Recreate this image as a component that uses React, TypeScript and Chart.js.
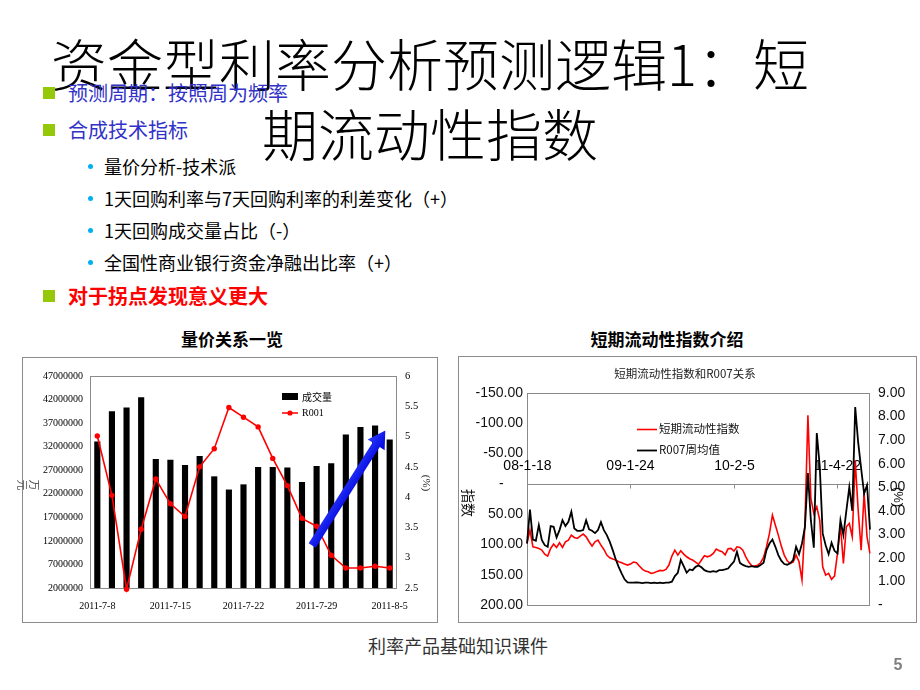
import React, { useEffect, useRef } from 'react';
import { Chart, registerables } from 'chart.js';

Chart.register(...registerables);

// ---------- Left chart: 量价关系一览 ----------
const VOL_DATES = [
  '2011-7-8', '2011-7-11', '2011-7-12', '2011-7-13', '2011-7-14', '2011-7-15',
  '2011-7-18', '2011-7-19', '2011-7-20', '2011-7-21', '2011-7-22',
  '2011-7-25', '2011-7-26', '2011-7-27', '2011-7-28', '2011-7-29',
  '2011-8-1', '2011-8-2', '2011-8-3', '2011-8-4', '2011-8-5',
];
const VOLUME = [
  33100000, 39500000, 40300000, 42500000, 29400000, 29200000,
  28100000, 30000000, 25700000, 22900000, 24000000,
  27700000, 27700000, 27600000, 24500000, 27900000,
  28500000, 34600000, 36200000, 36500000, 33500000,
];
const R001 = [
  5.01, 4.03, 2.48, 3.47, 4.30, 3.89,
  3.68, 4.50, 4.80, 5.48, 5.32,
  5.16, 4.64, 4.19, 3.65, 3.52,
  3.04, 2.83, 2.83, 2.86, 2.83,
];
// arrow annotation in data space: [category index, R001 axis value]
const ARROW_FROM = [14.7, 3.2];
const ARROW_TO = [19.7, 5.1];

// ---------- Right chart: 短期流动性指数和R007关系 ----------
const LIQ_TICK_LABELS = ['08-1-18', '09-1-24', '10-2-5', '11-4-22'];
const LIQ_TICK_EVERY = 35;
const LIQ_INDEX = [
  98.4, 76.4, 103.9, 105, 106.6, 109.4, 116, 119.3, 106.6, 99.5,
  105, 97.3, 105, 95.6, 92.9, 84.6, 88.5, 90.1, 86.3, 83,
  87.4, 95.6, 102.8, 95.6, 92.9, 101.1, 108.3, 117.6, 122, 124.2,
  125.8, 128.6, 130.2, 132.4, 134.1, 132.4, 129.1, 130.2, 135.7, 140.7,
  144, 145.1, 147.8, 146.7, 144.5, 142.9, 143.4, 141.2, 134, 119.3,
  109.4, 117.6, 110.5, 116, 120.4, 123.7, 125.8, 129.1, 133, 125.8,
  118.7, 120.4, 118.7, 114.9, 107.7, 110.5, 112.1, 117.1, 107.2, 106.6,
  111, 103.9, 105, 109.4, 120.4, 129.1, 135.2, 135.7, 134.6, 130.2,
  121.5, 103.9, 81.9, 51.7, 68.2, 84.6, 102.8, 117.6, 127, 131.3,
  129.1, 117.6, 128.6, 158.8, 65.4, -113.2, 24.2, 48.9, 37.9, 59.9,
  136.8, 150.6, 147.8, 157.7, 152.2, 114.9, 68.2, 131.3, 70.9, 65.4,
  87.4, -39, 43.4, 109.4, 16, 87.4, 114.9,
];
const R007 = [
  2.61, 4.05, 2.78, 2.73, 3.39, 2.76, 2.54, 2.47, 3.35, 3.32,
  2.87, 3.18, 3.60, 3.35, 3.53, 3.96, 3.25, 3.15, 3.15, 3.18,
  3.60, 3.21, 3.15, 3.05, 3.18, 3.52, 3.18, 2.97, 2.68, 2.33,
  1.94, 1.62, 1.34, 1.09, 0.96, 0.95, 0.95, 0.96, 0.95, 0.93,
  0.95, 0.95, 0.93, 0.95, 0.93, 0.95, 0.93, 0.95, 0.95, 0.99,
  1.23, 1.37, 1.91, 1.65, 1.37, 1.51, 1.48, 1.62, 1.68, 1.60,
  1.48, 1.43, 1.41, 1.44, 1.41, 1.48, 1.48, 1.51, 1.55, 1.70,
  1.84, 2.26, 1.79, 1.70, 1.65, 1.62, 1.65, 1.62, 1.62, 1.70,
  1.79, 2.33, 2.61, 2.78, 2.47, 2.12, 1.88, 1.74, 1.71, 1.77,
  1.91, 2.47, 2.16, 2.61, 3.32, 5.60, 3.60, 2.43, 7.30, 5.90,
  3.04, 2.54, 2.16, 2.64, 2.30, 2.19, 3.60, 2.97, 4.00, 5.00,
  4.00, 8.40, 6.90, 5.80, 4.73, 5.09, 3.20,
];
const LIQ_LABELS = LIQ_INDEX.map((_, i) =>
  i % LIQ_TICK_EVERY === 0 ? LIQ_TICK_LABELS[i / LIQ_TICK_EVERY] || '' : ''
);

const CJK = '"Noto Sans CJK SC", "Noto Sans", sans-serif';
const SERIF = '"Liberation Serif", "DejaVu Serif", serif';
const SANS = '"Liberation Sans", Arial, sans-serif';

const leftDeco = {
  id: 'leftDeco',
  beforeDatasetsDraw(chart: any) {
    const { ctx, chartArea: a } = chart;
    ctx.save();
    ctx.strokeStyle = '#8a8a8a';
    ctx.lineWidth = 1;
    ctx.strokeRect(Math.round(a.left) + 0.5, Math.round(a.top) + 0.5, Math.round(a.width) - 1, Math.round(a.height));
    ctx.restore();
  },
  afterDatasetsDraw(chart: any) {
    const { ctx, scales } = chart;
    const xs = scales.x;
    const ys = scales.y1;
    const x0 = xs.getPixelForValue(ARROW_FROM[0]);
    const y0 = ys.getPixelForValue(ARROW_FROM[1]);
    const x1 = xs.getPixelForValue(ARROW_TO[0]);
    const y1 = ys.getPixelForValue(ARROW_TO[1]);
    const L = Math.hypot(x1 - x0, y1 - y0);
    const ang = Math.atan2(y1 - y0, x1 - x0);
    const headLen = 17, headW = 10, shaftW = 4.2;
    ctx.save();
    ctx.translate(x0, y0);
    ctx.rotate(ang);
    const g = ctx.createLinearGradient(0, -headW, 0, headW);
    g.addColorStop(0, '#2a3cff');
    g.addColorStop(1, '#0000d8');
    ctx.fillStyle = g;
    ctx.beginPath();
    ctx.moveTo(0, -shaftW);
    ctx.lineTo(L - headLen, -shaftW);
    ctx.lineTo(L - headLen, -headW);
    ctx.lineTo(L, 0);
    ctx.lineTo(L - headLen, headW);
    ctx.lineTo(L - headLen, shaftW);
    ctx.lineTo(0, shaftW);
    ctx.closePath();
    ctx.fill();
    ctx.restore();

    // legend
    ctx.save();
    ctx.fillStyle = '#000';
    ctx.fillRect(260, 36, 16, 7);
    ctx.strokeStyle = '#ff0000';
    ctx.lineWidth = 1.5;
    ctx.beginPath();
    ctx.moveTo(260, 56);
    ctx.lineTo(276, 56);
    ctx.stroke();
    ctx.fillStyle = '#ff0000';
    ctx.beginPath();
    ctx.arc(268, 56, 2.6, 0, Math.PI * 2);
    ctx.fill();
    ctx.fillStyle = '#000';
    ctx.textBaseline = 'middle';
    ctx.textAlign = 'left';
    ctx.font = `10px ${CJK}`;
    ctx.fillText('成交量', 280, 40);
    ctx.font = `10px ${SERIF}`;
    ctx.fillText('R001', 280, 56);
    ctx.restore();
  },
};

const rightDeco = {
  id: 'rightDeco',
  beforeDatasetsDraw(chart: any) {
    const { ctx, chartArea: a, scales } = chart;
    ctx.save();
    ctx.strokeStyle = '#8a8a8a';
    ctx.lineWidth = 1;
    ctx.strokeRect(Math.round(a.left) + 0.5, Math.round(a.top) + 0.5, Math.round(a.width) - 1, Math.round(a.height));
    // category axis drawn at value 0 of the index axis
    const yz = Math.round(scales.y.getPixelForValue(0)) + 0.5;
    ctx.beginPath();
    ctx.moveTo(a.left, yz);
    ctx.lineTo(a.right, yz);
    ctx.stroke();
    ctx.fillStyle = '#000';
    ctx.font = `14px ${SANS}`;
    ctx.textAlign = 'center';
    ctx.textBaseline = 'middle';
    LIQ_LABELS.forEach((lab, i) => {
      if (!lab) return;
      const x = Math.round(scales.x.getPixelForValue(i)) + 0.5;
      ctx.beginPath();
      ctx.moveTo(x, yz);
      ctx.lineTo(x, yz + 4);
      ctx.stroke();
      ctx.fillText(lab, x, yz - 18);
    });
    ctx.restore();
  },
  afterDatasetsDraw(chart: any) {
    const { ctx } = chart;
    ctx.save();
    ctx.lineWidth = 1.6;
    ctx.strokeStyle = '#ff0000';
    ctx.beginPath();
    ctx.moveTo(179, 73.5);
    ctx.lineTo(199, 73.5);
    ctx.stroke();
    ctx.strokeStyle = '#000';
    ctx.lineWidth = 1.8;
    ctx.beginPath();
    ctx.moveTo(179, 94.5);
    ctx.lineTo(199, 94.5);
    ctx.stroke();
    ctx.fillStyle = '#111';
    ctx.font = `11.5px ${CJK}`;
    ctx.textAlign = 'left';
    ctx.textBaseline = 'middle';
    ctx.fillText('短期流动性指数', 201, 73);
    ctx.fillText('R007周均值', 201, 94);
    ctx.restore();
  },
};

const abs = (l: number, t: number, extra: any = {}) => ({ position: 'absolute' as const, left: l, top: t, ...extra });

export default function App() {
  const leftRef = useRef<HTMLCanvasElement>(null);
  const rightRef = useRef<HTMLCanvasElement>(null);

  useEffect(() => {
    const noGrid = { display: false, drawTicks: false };
    const c1 = new Chart(leftRef.current as HTMLCanvasElement, {
      type: 'bar',
      data: {
        labels: VOL_DATES,
        datasets: [
          {
            type: 'line',
            label: 'R001',
            data: R001,
            yAxisID: 'y1',
            borderColor: '#ff0000',
            backgroundColor: '#ff0000',
            borderWidth: 1.6,
            pointRadius: 2.7,
            pointBackgroundColor: '#ff0000',
            pointBorderWidth: 0,
            clip: false,
            order: 0,
          } as any,
          {
            type: 'bar',
            label: '成交量',
            data: VOLUME,
            yAxisID: 'y',
            backgroundColor: '#000',
            barPercentage: 0.42,
            categoryPercentage: 1,
            order: 1,
          } as any,
        ],
      },
      options: {
        responsive: false,
        animation: false,
        devicePixelRatio: 1,
        layout: { padding: { left: 4, right: 5, top: 19, bottom: 10 } },
        plugins: { legend: { display: false }, tooltip: { enabled: false } },
        scales: {
          x: {
            grid: noGrid,
            border: { display: false },
            ticks: {
              autoSkip: false,
              maxRotation: 0,
              padding: 12,
              color: '#000',
              font: { family: SERIF, size: 10 },
              callback: (_v: any, i: number) => (i % 5 === 0 ? VOL_DATES[i] : ''),
            },
            afterFit: (s: any) => { s.height = 25; },
          },
          y: {
            position: 'left',
            min: 2000000,
            max: 47000000,
            grid: noGrid,
            border: { display: false },
            ticks: {
              stepSize: 5000000,
              padding: 7,
              color: '#000',
              font: { family: SERIF, size: 10 },
              callback: (v: any) => String(v),
            },
            afterFit: (s: any) => { s.width = 64; },
          },
          y1: {
            position: 'right',
            min: 2.5,
            max: 6,
            grid: noGrid,
            border: { display: false },
            ticks: {
              stepSize: 0.5,
              padding: 8,
              color: '#000',
              font: { family: SERIF, size: 10.5 },
              callback: (v: any) => String(v),
            },
            afterFit: (s: any) => { s.width = 36; },
          },
        },
      } as any,
      plugins: [leftDeco],
    });

    const c2 = new Chart(rightRef.current as HTMLCanvasElement, {
      type: 'line',
      data: {
        labels: LIQ_LABELS,
        datasets: [
          {
            label: '短期流动性指数',
            data: LIQ_INDEX,
            yAxisID: 'y',
            borderColor: '#ff0000',
            borderWidth: 1.6,
            pointRadius: 0,
            tension: 0,
            order: 1,
          },
          {
            label: 'R007周均值',
            data: R007,
            yAxisID: 'y1',
            borderColor: '#000',
            borderWidth: 1.8,
            pointRadius: 0,
            tension: 0,
            order: 0,
          },
        ],
      },
      options: {
        responsive: false,
        animation: false,
        devicePixelRatio: 1,
        layout: { padding: { left: 9, right: 7, top: 37, bottom: 18 } },
        plugins: { legend: { display: false }, tooltip: { enabled: false } },
        scales: {
          x: { display: false, offset: false },
          y: {
            position: 'left',
            reverse: true,
            min: -150,
            max: 200,
            grid: noGrid,
            border: { display: false },
            ticks: {
              stepSize: 50,
              padding: 4,
              color: '#111',
              font: { family: SANS, size: 14 },
              callback: (v: any) => (Number(v) === 0 ? '-     ' : Number(v).toFixed(2)),
            },
            afterFit: (s: any) => { s.width = 60; },
          },
          y1: {
            position: 'right',
            min: 0,
            max: 9,
            grid: noGrid,
            border: { display: false },
            ticks: {
              stepSize: 1,
              padding: 8,
              color: '#111',
              font: { family: SANS, size: 14 },
              callback: (v: any) => (Number(v) === 0 ? '-' : Number(v).toFixed(2)),
            },
            afterFit: (s: any) => { s.width = 40; },
          },
        },
      } as any,
      plugins: [rightDeco],
    });

    return () => {
      c1.destroy();
      c2.destroy();
    };
  }, []);

  const sq = (t: number) => (
    <div style={abs(43, t, { width: 12, height: 12, background: '#96c80a' })} />
  );
  const dot = (c: number) => (
    <div style={abs(88, c - 2.5, { width: 5, height: 5, borderRadius: '50%', background: '#00b0f0' })} />
  );
  const sub = (c: number, text: string) => (
    <div style={abs(104, c - 12, { fontSize: 18, lineHeight: '24px', color: '#000', whiteSpace: 'nowrap' })}>{text}</div>
  );

  return (
    <div
      style={{
        position: 'absolute',
        left: 0,
        top: 0,
        width: 920,
        height: 690,
        background: '#fff',
        overflow: 'hidden',
        fontFamily: CJK,
      }}
    >
      {/* title */}
      <div
        style={abs(0, 27, {
          width: 860,
          textAlign: 'center',
          fontSize: 56,
          lineHeight: '70px',
          color: '#000',
          fontWeight: 300,
          whiteSpace: 'nowrap',
        })}
      >
        资金型利率分析预测逻辑1：短
        <br />
        期流动性指数
      </div>

      {/* bullets */}
      {sq(87)}
      <div style={abs(68, 81, { fontSize: 20, lineHeight: '24px', color: '#3232c8', whiteSpace: 'nowrap' })}>
        预测周期：按照周为频率
      </div>
      {sq(124)}
      <div style={abs(68, 118, { fontSize: 20, lineHeight: '24px', color: '#3232c8', whiteSpace: 'nowrap' })}>
        合成技术指标
      </div>
      {dot(166)}
      {sub(166, '量价分析-技术派')}
      {dot(198)}
      {sub(198, '1天回购利率与7天回购利率的利差变化（+）')}
      {dot(230)}
      {sub(230, '1天回购成交量占比（-）')}
      {dot(262)}
      {sub(262, '全国性商业银行资金净融出比率（+）')}
      {sq(290)}
      <div
        style={abs(68, 284, { fontSize: 20, lineHeight: '24px', color: '#ff0000', fontWeight: 700, whiteSpace: 'nowrap' })}
      >
        对于拐点发现意义更大
      </div>

      {/* chart headings */}
      <div style={abs(132, 328, { width: 200, textAlign: 'center', fontSize: 17, lineHeight: '22px', fontWeight: 700 })}>
        量价关系一览
      </div>
      <div style={abs(567, 328, { width: 200, textAlign: 'center', fontSize: 17, lineHeight: '22px', fontWeight: 700 })}>
        短期流动性指数介绍
      </div>

      {/* left chart box */}
      <div style={abs(22, 357, { width: 416, height: 266, boxSizing: 'border-box', border: '1px solid #8c8c8c' })} />
      <canvas ref={leftRef} width={416} height={266} style={abs(22, 357, { width: 416, height: 266 })} />
      <div
        style={abs(25, 479, {
          width: 20,
          height: 12,
          fontSize: 11,
          lineHeight: '12px',
          color: '#555',
          textAlign: 'center',
          transform: 'rotate(90deg)',
        })}
      >
        万元
      </div>
      <div
        style={abs(417, 477, {
          width: 20,
          height: 12,
          fontSize: 11,
          lineHeight: '12px',
          color: '#222',
          textAlign: 'center',
          fontFamily: SERIF,
          transform: 'rotate(90deg)',
        })}
      >
        (%)
      </div>

      {/* right chart box */}
      <div style={abs(458, 356, { width: 459, height: 267, boxSizing: 'border-box', border: '1px solid #8c8c8c' })} />
      <canvas ref={rightRef} width={459} height={267} style={abs(458, 356, { width: 459, height: 267 })} />
      <div style={abs(585, 365, { width: 200, textAlign: 'center', fontSize: 11.5, lineHeight: '16px', color: '#222' })}>
        短期流动性指数和R007关系
      </div>
      <div
        style={abs(454, 495, {
          width: 30,
          height: 16,
          fontSize: 14,
          lineHeight: '16px',
          color: '#111',
          textAlign: 'center',
          transform: 'rotate(90deg)',
        })}
      >
        指数
      </div>
      <div
        style={abs(885, 489, {
          width: 26,
          height: 16,
          fontSize: 13,
          lineHeight: '16px',
          color: '#111',
          textAlign: 'center',
          fontFamily: SANS,
          transform: 'rotate(90deg)',
        })}
      >
        (%)
      </div>

      {/* footer */}
      <div style={abs(358, 633, { width: 200, textAlign: 'center', fontSize: 18, lineHeight: '24px', color: '#333' })}>
        利率产品基础知识课件
      </div>
      <div
        style={abs(888, 655, {
          width: 20,
          textAlign: 'center',
          fontSize: 16,
          lineHeight: '20px',
          color: '#7f7f7f',
          fontWeight: 700,
          fontFamily: SANS,
        })}
      >
        5
      </div>
    </div>
  );
}
